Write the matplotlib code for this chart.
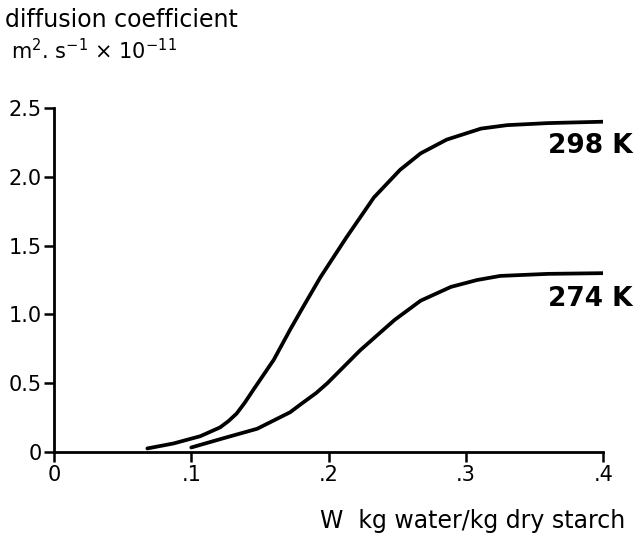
import matplotlib
matplotlib.use('Agg')
import matplotlib.pyplot as plt
import matplotlib.transforms as mtransforms

# moisture content W (kg water / kg dry starch) vs diffusion coefficient
w_298 = [0.068, 0.087, 0.1066, 0.121, 0.127, 0.133, 0.139, 0.145, 0.160,
         0.172, 0.180, 0.194, 0.213, 0.233, 0.252, 0.267, 0.286, 0.311,
         0.330, 0.36, 0.40]
d_298 = [0.027, 0.063, 0.116, 0.18, 0.225, 0.28, 0.36, 0.45, 0.67,
         0.89, 1.03, 1.27, 1.56, 1.85, 2.05, 2.17, 2.27, 2.35,
         2.375, 2.39, 2.40]

w_274 = [0.100, 0.123, 0.148, 0.172, 0.180, 0.191, 0.199, 0.209, 0.223,
         0.248, 0.267, 0.289, 0.308, 0.325, 0.36, 0.40]
d_274 = [0.034, 0.10, 0.17, 0.29, 0.35, 0.43, 0.50, 0.60, 0.74,
         0.96, 1.10, 1.20, 1.25, 1.28, 1.295, 1.30]

curve_labels = ['298 K', '274 K']
xticks = [0, 0.1, 0.2, 0.3, 0.4]
xtick_labels = ['0', '.1', '.2', '.3', '.4']
yticks = [0, 0.5, 1.0, 1.5, 2.0, 2.5]
ytick_labels = ['0', '0.5', '1.0', '1.5', '2.0', '2.5']

fig = plt.figure(figsize=(6.35, 5.37), dpi=100)
ax = fig.add_axes([0.085, 0.158, 0.865, 0.641])

for w, d in [(w_298, d_298), (w_274, d_274)]:
    ax.plot(w, d, color='black', lw=2.7, solid_capstyle='round',
            solid_joinstyle='round')

ax.set_xlim(0, 0.4)
ax.set_ylim(0, 2.5)
ax.spines['top'].set_visible(False)
ax.spines['right'].set_visible(False)
ax.spines['left'].set_linewidth(2)
ax.spines['bottom'].set_linewidth(2)

ax.set_xticks(xticks)
ax.set_xticklabels(xtick_labels)
ax.set_yticks(yticks)
ax.set_yticklabels(ytick_labels)
ax.tick_params(axis='both', direction='out', length=7, width=1.8,
               labelsize=15, pad=2)

# curve labels, right of the axis end
trans = mtransforms.blended_transform_factory(ax.transAxes, ax.transData)
ax.text(1.053, d_298[-1] - 0.08, curve_labels[0], ha='right', va='top',
        fontsize=19, fontweight='bold', transform=trans, clip_on=False)
ax.text(1.053, d_274[-1] - 0.09, curve_labels[1], ha='right', va='top',
        fontsize=19, fontweight='bold', transform=trans, clip_on=False)

fig.text(0.008, 0.962, 'diffusion coefficient', fontsize=17, va='center',
         ha='left')
fig.text(0.018, 0.905, r'm$^{2}$. s$^{-1}$ $\times$ 10$^{-11}$', fontsize=15,
         va='center', ha='left')
fig.text(0.985, 0.030, 'W  kg water/kg dry starch', fontsize=17,
         va='center', ha='right')

plt.savefig('out.png', dpi=100)
